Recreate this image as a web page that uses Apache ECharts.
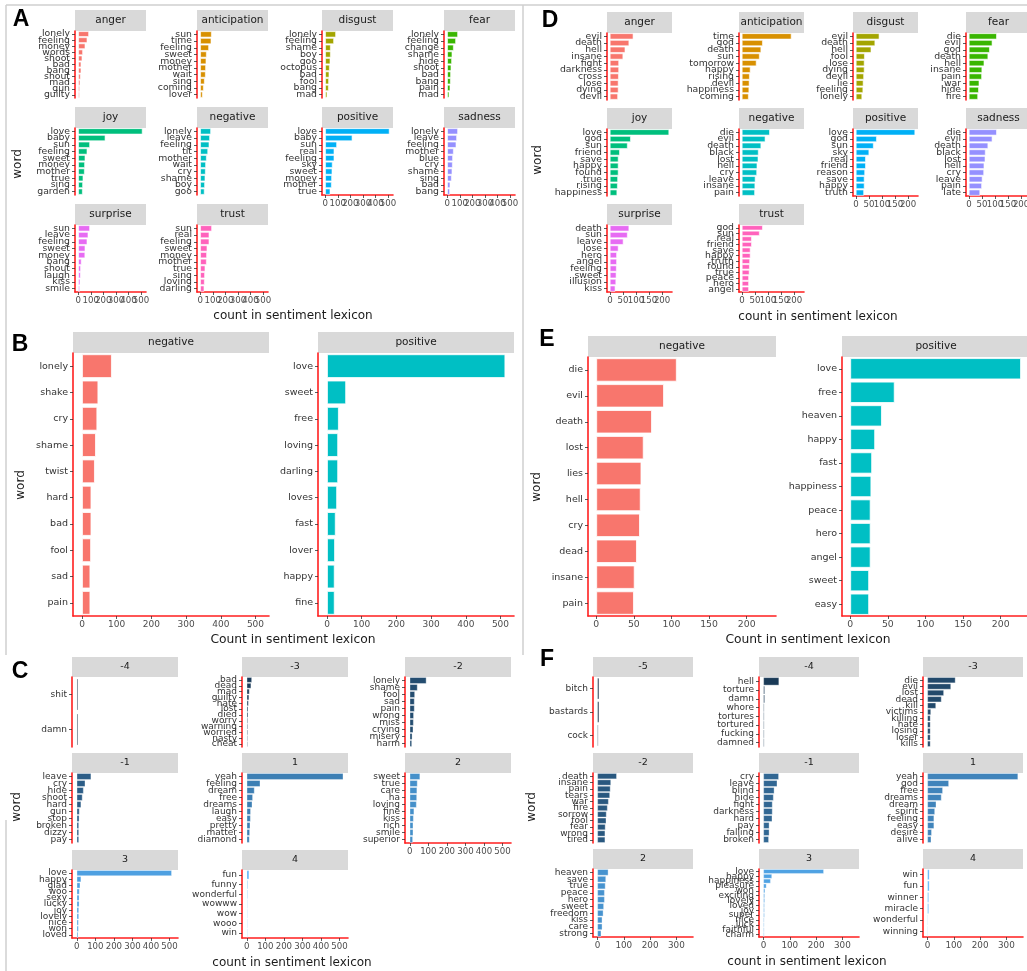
<!DOCTYPE html>
<html><head><meta charset="utf-8">
<script src="https://cdn.jsdelivr.net/npm/echarts@6/dist/echarts.min.js"></script>
<style>html,body{margin:0;padding:0;background:#fff}#c{width:1027px;height:971px}</style>
</head><body><div id="c"></div>
<script>
// ---------------- DATA ----------------
// Panel A (NRC, left)
const aFacets = ['anger','anticipation','disgust','fear','joy','negative','positive','sadness','surprise','trust'];
const aAngerWords = ['lonely','feeling','money','words','shoot','bad','bang','shout','mad','gun','guilty'];
const aAngerN = [85,72,56,37,32,24,24,19,16,13,11];
const aAnticipationWords = ['sun','time','feeling','sweet','money','mother','wait','sing','coming','lover'];
const aAnticipationN = [91,88,69,51,48,45,43,35,27,19];
const aDisgustWords = ['lonely','feeling','shame','boy','goo','octopus','bad','fool','bang','mad'];
const aDisgustN = [85,69,43,43,40,35,32,29,27,16];
const aFearWords = ['lonely','feeling','change','shame','hide','shoot','bad','bang','pain','mad'];
const aFearN = [85,69,51,40,37,32,29,27,24,16];
const aJoyWords = ['love','baby','sun','feeling','sweet','money','mother','true','sing','garden'];
const aJoyN = [512,216,93,72,56,53,51,40,37,35];
const aNegativeWords = ['lonely','leave','feeling','tit','mother','wait','cry','shame','boy','goo'];
const aNegativeN = [85,77,72,62,51,45,43,40,37,34];
const aPositiveWords = ['love','baby','sun','real','feeling','sky','sweet','money','mother','true'];
const aPositiveN = [512,216,93,72,72,58,56,53,51,40];
const aSadnessWords = ['lonely','leave','feeling','mother','blue','cry','shame','sing','bad','bang'];
const aSadnessN = [85,77,72,51,45,43,40,35,24,21];
const aSurpriseWords = ['sun','leave','feeling','sweet','money','bang','shout','laugh','kiss','smile'];
const aSurpriseN = [93,80,72,56,55,26,21,19,16,13];
const aTrustWords = ['sun','real','feeling','sweet','money','mother','true','sing','loving','darling'];
const aTrustN = [93,72,72,56,53,51,40,37,35,32];
const aTicks = [0,100,200,300,400,500];

// Panel D (NRC, right)
const dAngerWords = ['evil','death','hell','insane','fight','darkness','cross','lose','dying','devil'];
const dAngerN = [90,74,59,51,35,35,34,33,33,31];
const dAnticipationWords = ['time','god','death','sun','tomorrow','happy','rising','devil','happiness','coming'];
const dAnticipationN = [190,80,74,68,56,33,30,29,28,26];
const dDisgustWords = ['evil','death','hell','fool','lose','dying','devil','lie','feeling','lonely'];
const dDisgustN = [90,74,59,34,33,33,31,29,28,24];
const dFearWords = ['die','evil','god','death','hell','insane','pain','war','hide','fire'];
const dFearN = [107,90,80,74,59,51,50,40,38,35];
const dJoyWords = ['love','god','sun','friend','save','happy','found','true','rising','happiness'];
const dJoyN = [227,80,68,38,33,33,33,31,30,28];
const dNegativeWords = ['die','evil','death','black','lost','hell','cry','leave','insane','pain'];
const dNegativeN = [107,90,74,64,63,59,58,52,51,50];
const dPositiveWords = ['love','god','sun','sky','real','friend','reason','save','happy','truth'];
const dPositiveN = [227,80,68,51,38,38,35,33,33,31];
const dSadnessWords = ['die','evil','death','black','lost','hell','cry','leave','pain','late'];
const dSadnessN = [107,90,74,64,63,59,58,52,50,43];
const dSurpriseWords = ['death','sun','leave','lose','hero','angel','feeling','sweet','illusion','kiss'];
const dSurpriseN = [74,68,52,33,27,27,26,25,24,21];
const dTrustWords = ['god','sun','real','friend','save','happy','truth','found','true','peace','hero','angel'];
const dTrustN = [80,68,38,38,33,33,31,30,29,27,27,27];
const dTicks = [0,50,100,150,200];

// Panel B (Bing, left)
const bFacets = ['negative','positive'];
const bNegWords = ['lonely','shake','cry','shame','twist','hard','bad','fool','sad','pain'];
const bNegN = [86,47,44,40,37,27,27,26,24,24];
const bPosWords = ['love','sweet','free','loving','darling','loves','fast','lover','happy','fine'];
const bPosN = [514,55,34,32,32,29,25,23,22,22];
const bTicks = [0,100,200,300,400,500];

// Panel E (Bing, right)
const eNegWords = ['die','evil','death','lost','lies','hell','cry','dead','insane','pain'];
const eNegN = [107,90,74,63,60,59,58,54,51,50];
const ePosWords = ['love','free','heaven','happy','fast','happiness','peace','hero','angel','sweet','easy'];
const ePosN = [227,59,42,33,29,28,27,27,27,25,25];
const eTicks = [0,50,100,150,200];

// Panel C (AFINN, left)
const cScores = [-4,-3,-2,-1,1,2,3,4];
const cM4Words = ['shit','damn'];
const cM4N = [6,6];
const cM3Words = ['bad','dead','mad','guilty','hate','lost','died','worry','warning','worried','nasty','cheat'];
const cM3N = [27,23,14,12,9,7,7,5,5,5,4,4];
const cM2Words = ['lonely','shame','fool','sad','pain','wrong','miss','crying','misery','harm'];
const cM2N = [89,41,27,25,25,21,20,18,13,11];
const cM1Words = ['leave','cry','hide','shoot','hard','gun','stop','broken','dizzy','pay'];
const cM1N = [77,45,36,30,23,14,13,11,11,11];
const cP1Words = ['yeah','feeling','dream','free','dreams','laugh','easy','pretty','matter','diamond'];
const cP1N = [520,72,41,32,29,21,20,18,16,14];
const cP2Words = ['sweet','true','care','ha','loving','fine','kiss','rich','smile','superior'];
const cP2N = [55,41,39,38,36,23,20,18,18,16];
const cP3Words = ['love','happy','glad','woo','sexy','lucky','joy','lovely','nice','won','loved'];
const cP3N = [512,23,18,14,13,13,11,11,9,9,7];
const cP4Words = ['fun','funny','wonderful','wowww','wow','wooo','win'];
const cP4N = [12,5,4,3,3,3,3];
const cTicks = [0,100,200,300,400,500];

// Panel F (AFINN, right)
const fScores = [-5,-4,-3,-2,-1,1,2,3,4];
const fM5Words = ['bitch','bastards','cock'];
const fM5N = [6,6,3];
const fM4Words = ['hell','torture','damn','whore','tortures','tortured','fucking','damned'];
const fM4N = [59,5,5,3,3,3,3,3];
const fM3Words = ['die','evil','lost','dead','kill','victims','killing','hate','losing','loser','kills'];
const fM3N = [106,89,62,53,32,13,11,11,11,11,11];
const fM2Words = ['death','insane','pain','tears','war','fire','sorrow','fool','fear','wrong','tired'];
const fM2N = [73,51,49,47,42,38,34,33,30,29,29];
const fM1Words = ['cry','leave','blind','hide','fight','darkness','hard','pay','falling','broken'];
const fM1N = [58,52,41,38,34,34,33,22,22,20];
const fP1Words = ['yeah','god','free','dreams','dream','spirit','feeling','easy','desire','alive'];
const fP1N = [344,81,58,53,33,28,25,25,16,14];
const fP2Words = ['heaven','save','true','peace','hero','sweet','freedom','kiss','care','strong'];
const fP2N = [41,32,30,27,27,24,22,18,18,14];
const fP3Words = ['love','happy','happiness','pleasure','won','exciting','lovely','loved','joy','super','nice','luck','faithful','charm'];
const fP3N = [229,32,27,11,6,5,5,4,4,4,3,3,3,3];
const fP4Words = ['win','fun','winner','miracle','wonderful','winning'];
const fP4N = [7,7,5,5,2,2];
const fTicks = [0,100,200,300];

// ---------------- STYLE / LAYOUT ----------------
const FONT = '"DejaVu Sans", Verdana, sans-serif';
const RED = '#ff1f1f';
const nrcColors = ['#F8766D','#D89000','#A3A500','#39B600','#00BF7D','#00BFC4','#00B0F6','#9590FF','#E76BF3','#FF62BC'];
const bingColors = ['#F8766D','#00BFC4'];
function grad(t){
  const a=[0x13,0x2B,0x43], b=[0x56,0xB1,0xF7];
  const c=a.map((v,i)=>Math.round(v+(b[i]-v)*t));
  return 'rgb('+c.join(',')+')';
}

const grids=[], xAxes=[], yAxes=[], series=[], graphic=[];
const tickJobs=[];   // x tick labels drawn after layout through the axis scale

function panel(o){
  const i = grids.length;
  grids.push({left:o.left, top:o.top, width:o.width, height:o.height, containLabel:false, outerBoundsMode:'none'});
  xAxes.push({
    gridIndex:i, type:'value', min:o.xMin, max:o.xMax, position:'bottom',
    axisLine:{show:o.showX, onZero:false, lineStyle:{color:RED, width:1.6}},
    axisTick:{show:o.showX, customValues:o.ticks, length:3, lineStyle:{color:'#333', width:0.8}},
    axisLabel:{show:false},
    splitLine:{show:false}
  });
  if (o.showX) tickJobs.push({axis:i, ticks:o.ticks, y:o.top+o.height+4, size:o.tickSize});
  yAxes.push({
    gridIndex:i, type:'category', data:o.words, inverse:true,
    axisLine:{show:true, onZero:false, lineStyle:{color:RED, width:1.6}},
    axisTick:{show:true, alignWithLabel:true, length:3, lineStyle:{color:'#333', width:0.8}},
    axisLabel:{interval:0, fontSize:o.labelSize, color:'#333', margin:5, fontFamily:FONT, hideOverlap:false,
      showMinLabel:true, showMaxLabel:true},
    splitLine:{show:false}
  });
  series.push({
    type:'bar', xAxisIndex:i, yAxisIndex:i, data:o.values, barCategoryGap:'10%',
    itemStyle:{color:o.color, borderColor:'#fff', borderWidth:o.border}, silent:true
  });
  graphic.push({type:'rect', silent:true, shape:{x:o.left, y:o.top-o.stripH, width:o.width, height:o.stripH}, style:{fill:'#d9d9d9'}});
  graphic.push({type:'text', silent:true, x:o.left+o.width/2, y:o.top-o.stripH/2,
    style:{text:o.strip, fill:'#1a1a1a', font:o.stripSize+'px '+FONT, align:'center', verticalAlign:'middle'}});
}
function text(str,x,y,size,opts){
  opts=opts||{};
  graphic.push({type:'text', silent:true, x:x, y:y, rotation:opts.rot||0,
    style:{text:str, fill:opts.fill||'#1a1a1a', font:(opts.bold?'bold ':'')+size+'px '+(opts.font||FONT), align:'center', verticalAlign:opts.va||'middle'}});
}
function line(x1,y1,x2,y2){
  graphic.push({type:'line', silent:true, shape:{x1:x1,y1:y1,x2:x2,y2:y2}, style:{stroke:'#cfcfcf', lineWidth:1.5}});
}

// Panel A
const aWords=[aAngerWords,aAnticipationWords,aDisgustWords,aFearWords,aJoyWords,aNegativeWords,aPositiveWords,aSadnessWords,aSurpriseWords,aTrustWords];
const aVals=[aAngerN,aAnticipationN,aDisgustN,aFearN,aJoyN,aNegativeN,aPositiveN,aSadnessN,aSurpriseN,aTrustN];
const aLefts=[75,197,322,444], aTops=[31,128,225];
aFacets.forEach((f,k)=>{
  const r=Math.floor(k/4), c=k%4;
  panel({left:aLefts[c], top:aTops[r], width:71, height:67, words:aWords[k], values:aVals[k], color:nrcColors[k],
    strip:f, stripH:21, stripSize:10.5, labelSize:9.3, tickSize:8.6, xMin:-26, xMax:540, ticks:aTicks,
    showX:(k>=6), border:0.6});
});
// Panel D
const dWords=[dAngerWords,dAnticipationWords,dDisgustWords,dFearWords,dJoyWords,dNegativeWords,dPositiveWords,dSadnessWords,dSurpriseWords,dTrustWords];
const dVals=[dAngerN,dAnticipationN,dDisgustN,dFearN,dJoyN,dNegativeN,dPositiveN,dSadnessN,dSurpriseN,dTrustN];
const dLefts=[607,739,853,966], dTops=[33,129,225];
aFacets.forEach((f,k)=>{
  const r=Math.floor(k/4), c=k%4;
  panel({left:dLefts[c], top:dTops[r], width:65, height:67, words:dWords[k], values:dVals[k], color:nrcColors[k],
    strip:f, stripH:21, stripSize:10.5, labelSize:9.3, tickSize:8.6, xMin:-11, xMax:238, ticks:dTicks,
    showX:(k>=6), border:0.6});
});
// Panel B
[[bNegWords,bNegN],[bPosWords,bPosN]].forEach((p,k)=>{
  panel({left:[73,318][k], top:353, width:196, height:263, words:p[0], values:p[1], color:bingColors[k],
    strip:bFacets[k], stripH:21, stripSize:10.5, labelSize:9.5, tickSize:9, xMin:-26, xMax:539, ticks:bTicks, showX:true, border:0.8});
});
// Panel E
[[eNegWords,eNegN],[ePosWords,ePosN]].forEach((p,k)=>{
  panel({left:[588,842][k], top:357, width:188, height:259, words:p[0], values:p[1], color:bingColors[k],
    strip:bFacets[k], stripH:21, stripSize:10.5, labelSize:9.5, tickSize:9.3, xMin:-11, xMax:239, ticks:eTicks, showX:true, border:0.8});
});
// Panel C
const cWords=[cM4Words,cM3Words,cM2Words,cM1Words,cP1Words,cP2Words,cP3Words,cP4Words];
const cVals=[cM4N,cM3N,cM2N,cM1N,cP1N,cP2N,cP3N,cP4N];
const cLefts=[72,242,405], cTops=[677,773,870], cHeights=[70,70,68];
cScores.forEach((s,k)=>{
  const r=Math.floor(k/3), c=k%3;
  panel({left:cLefts[c], top:cTops[r], width:106, height:cHeights[r], words:cWords[k], values:cVals[k],
    color:grad((s-cScores[0])/(cScores[cScores.length-1]-cScores[0])),
    strip:String(s), stripH:20, stripSize:9.5, labelSize:9, tickSize:8.6, xMin:-26, xMax:546, ticks:cTicks,
    showX:(r===2 || k===5), border:0.35});
});
// Panel F
const fWords=[fM5Words,fM4Words,fM3Words,fM2Words,fM1Words,fP1Words,fP2Words,fP3Words,fP4Words];
const fVals=[fM5N,fM4N,fM3N,fM2N,fM1N,fP1N,fP2N,fP3N,fP4N];
const fLefts=[593,759,923], fTops=[677,773,869], fHeights=[70,70,68];
fScores.forEach((s,k)=>{
  const r=Math.floor(k/3), c=k%3;
  panel({left:fLefts[c], top:fTops[r], width:100, height:fHeights[r], words:fWords[k], values:fVals[k],
    color:grad((s-fScores[0])/(fScores[fScores.length-1]-fScores[0])),
    strip:String(s), stripH:20, stripSize:9.5, labelSize:9, tickSize:8.8, xMin:-17, xMax:363, ticks:fTicks,
    showX:(r===2), border:0.35});
});

// frame lines
line(6,5,1027,5); line(6,5,6,655); line(523,5,523,655); line(6,820,6,971);

// panel letters
const LF='"Liberation Sans", Arial, sans-serif';
text('A',21,20,23,{bold:true,fill:'#000',font:LF});
text('D',550,21,23,{bold:true,fill:'#000',font:LF});
text('B',20,345,23,{bold:true,fill:'#000',font:LF});
text('E',547,340,23,{bold:true,fill:'#000',font:LF});
text('C',20,672,23,{bold:true,fill:'#000',font:LF});
text('F',547,660,23,{bold:true,fill:'#000',font:LF});

// axis titles
text('count in sentiment lexicon',293,316,12);
text('count in sentiment lexicon',818,317,12);
text('Count in sentiment lexicon',293,640,12.3);
text('Count in sentiment lexicon',808,640,12.3);
text('count in sentiment lexicon',292,963,12);
text('count in sentiment lexicon',807,962,12);
text('word',18,164,12,{rot:Math.PI/2});
text('word',538,160,12,{rot:Math.PI/2});
text('word',21,485,12,{rot:Math.PI/2});
text('word',537,487,12,{rot:Math.PI/2});
text('word',17,807,12,{rot:Math.PI/2});
text('word',532,807,12,{rot:Math.PI/2});

const chart = echarts.init(document.getElementById('c'), null, {renderer:'canvas'});
chart.setOption({
  animation:false,
  backgroundColor:'#fff',
  grid:grids, xAxis:xAxes, yAxis:yAxes, series:series, graphic:graphic
});
// x tick labels: positioned through each axis' own scale, all shown (overlapping like the original)
const tickGraphics=[];
tickJobs.forEach(job=>{
  job.ticks.forEach(v=>{
    const px = chart.convertToPixel({xAxisIndex:job.axis}, v);
    tickGraphics.push({type:'text', silent:true, x:px, y:job.y,
      style:{text:String(v), fill:'#4d4d4d', font:job.size+'px '+FONT, align:'center', verticalAlign:'top'}});
  });
});
chart.setOption({graphic: graphic.concat(tickGraphics)});
</script></body></html>
